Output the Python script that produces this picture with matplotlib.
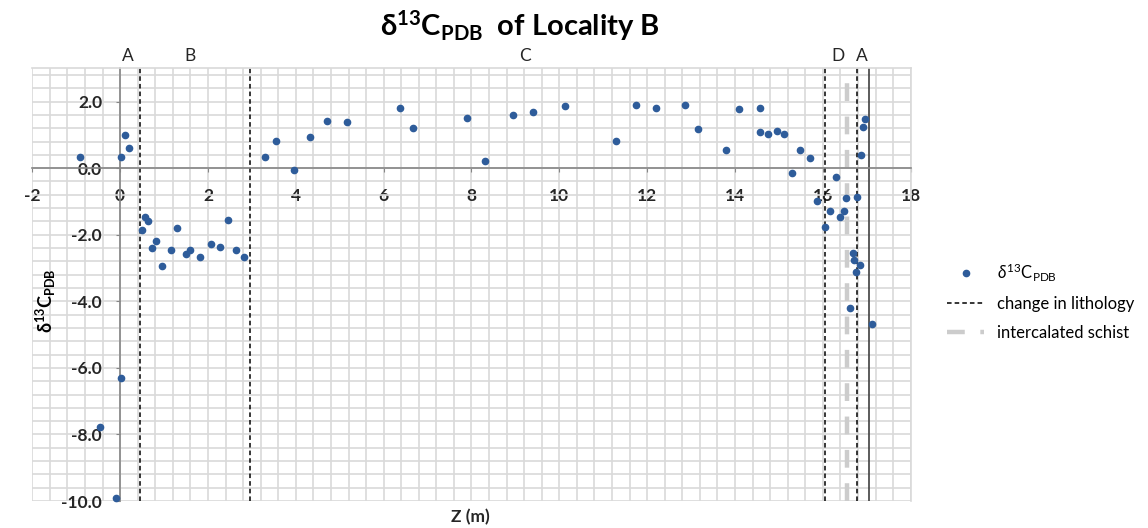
import numpy as np
import matplotlib
matplotlib.use("Agg")
import matplotlib.pyplot as plt
from matplotlib.ticker import MultipleLocator, FormatStrFormatter
from matplotlib.lines import Line2D

plt.rcParams['font.family'] = ['Lato', 'DejaVu Sans']
plt.rcParams['axes.unicode_minus'] = False
plt.rcParams['mathtext.fontset'] = 'custom'
plt.rcParams['mathtext.rm'] = 'Lato'
plt.rcParams['mathtext.it'] = 'Lato:italic'
plt.rcParams['mathtext.bf'] = 'Lato:bold'

# carbon isotope samples: height Z (m) and d13C (permil PDB)
z_m = [-0.92, 0.03, 0.11, 0.20, 0.01, -0.46, -0.10,
       0.49, 0.56, 0.63, 0.72, 0.82, 0.96, 1.15, 1.30, 1.51, 1.60, 1.83,
       2.07, 2.27, 2.45, 2.65, 2.81,
       3.30, 3.55, 3.96, 4.32, 4.72, 5.17, 6.38, 6.67, 7.89, 8.31, 8.94,
       9.39, 10.13, 11.29, 11.74, 12.21, 12.86, 13.15, 13.80, 14.10, 14.56,
       14.56, 14.76, 14.95, 15.12, 15.30, 15.49, 15.70,
       15.87, 16.06, 16.16, 16.29, 16.39, 16.49, 16.53,
       16.62, 16.69, 16.71, 16.76, 16.84, 16.78, 16.87, 16.91, 16.95, 17.11]
d13c = [0.35, 0.35, 0.99, 0.61, -6.31, -7.78, -9.91,
        -1.85, -1.46, -1.60, -2.41, -2.19, -2.94, -2.46, -1.81, -2.59, -2.45, -2.67,
        -2.29, -2.37, -1.55, -2.46, -2.67,
        0.35, 0.81, -0.05, 0.95, 1.42, 1.38, 1.81, 1.21, 1.51, 0.22, 1.59,
        1.68, 1.86, 0.82, 1.90, 1.81, 1.90, 1.17, 0.56, 1.77, 1.81,
        1.08, 1.04, 1.13, 1.04, -0.13, 0.56, 0.30,
        -0.99, -1.76, -1.29, -0.26, -1.47, -1.28, -0.90,
        -4.19, -2.54, -2.77, -3.12, -2.92, -0.86, 0.39, 1.24, 1.48, -4.68]

# unit boundaries
litho_changes = [0.45, 2.95, 16.06, 16.78]
schist_z = [16.55]
section_end = [17.05]
unit_names = ['A', 'B', 'C', 'D', 'A']
unit_pos = [0.18, 1.59, 9.22, 16.35, 16.89]

label_d13c = r'$\delta^{13}$C$_{\mathrm{PDB}}$'

fig = plt.figure(figsize=(11.48, 5.28), dpi=100)
ax = fig.add_axes([0.0281, 0.0511, 0.7652, 0.8195])

ax.set_xlim(-2, 18)
ax.set_ylim(-10, 3)

grid_col = '#d9d9d9'
ax.xaxis.set_major_locator(MultipleLocator(2))
ax.yaxis.set_major_locator(MultipleLocator(2))
ax.xaxis.set_minor_locator(MultipleLocator(0.4))
ax.yaxis.set_minor_locator(MultipleLocator(0.4))
ax.grid(which='both', color=grid_col, linewidth=1.2, zorder=0)
ax.set_axisbelow(True)
ax.yaxis.set_major_formatter(FormatStrFormatter('%.1f'))

# axes cross at zero
ax.spines['left'].set_position(('data', 0))
ax.spines['bottom'].set_position(('data', 0))
for s in ['left', 'bottom']:
    ax.spines[s].set_color('#868686')
    ax.spines[s].set_linewidth(1.2)
for s in ['top', 'right']:
    ax.spines[s].set_color(grid_col)
    ax.spines[s].set_linewidth(1.2)
ax.tick_params(which='minor', length=0)
ax.tick_params(which='major', direction='out', length=3, color='#868686',
               labelsize=12.5)
ax.tick_params(axis='x', pad=11)
ax.tick_params(axis='y', pad=10)
for lbl in ax.get_xticklabels() + ax.get_yticklabels():
    lbl.set_fontweight('bold')
    lbl.set_color('#262626')

for xv in litho_changes:
    ax.axvline(xv, color='black', linestyle=(0, (3, 2)), linewidth=1.1, zorder=2)
for xv in schist_z:
    ax.axvline(xv, color='#cccccc', linestyle=(0, (4, 3.5)), linewidth=3.2, zorder=1.5)
for xv in section_end:
    ax.axvline(xv, color='#404040', linewidth=1.2, zorder=2)

ax.plot(z_m, d13c, 'o', color='#2e5c9a', markersize=4.5, zorder=3, clip_on=False)

for name, xv in zip(unit_names, unit_pos):
    ax.text(xv, 3.12, name, ha='center', va='bottom', fontsize=12.5, color='#262626')

fig.text(0.453, 0.952, r'$\mathbf{\delta^{13}C_{PDB}}$  of Locality B', ha='center',
         va='center', fontsize=21, fontweight='bold')
fig.text(0.040, 0.43, r'$\mathbf{\delta^{13}C_{PDB}}$', rotation=90, ha='center',
         va='center', fontsize=13, fontweight='bold')
fig.text(0.41, 0.02, 'Z (m)', ha='center', va='center', fontsize=12.5,
         fontweight='bold', color='#262626')

handles = [
    Line2D([], [], marker='o', linestyle='none', color='#2e5c9a', markersize=4.5),
    Line2D([], [], color='black', linestyle=(0, (3, 2)), linewidth=1.1),
    Line2D([], [], color='#cccccc', linestyle=(0, (4, 3.5)), linewidth=3.2),
]
fig.legend(handles, [label_d13c, 'change in lithology', 'intercalated schist'],
           loc='center left', bbox_to_anchor=(0.812, 0.43), frameon=False,
           fontsize=12, handlelength=2.2, handletextpad=0.8, labelspacing=0.75)

fig.savefig('out.png', dpi=100)
